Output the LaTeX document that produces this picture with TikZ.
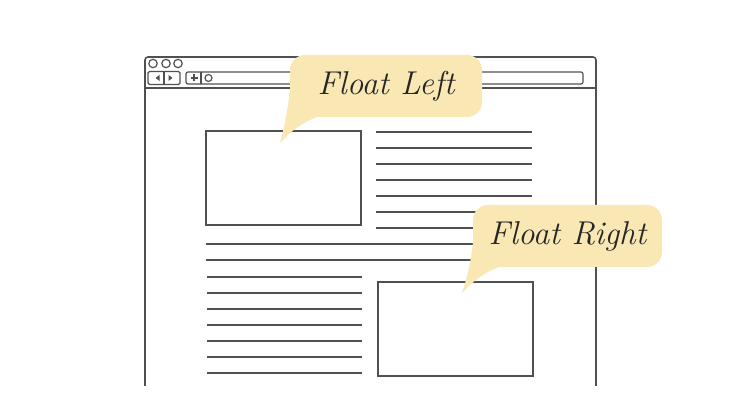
\documentclass[tikz,border=0pt]{standalone}
\usepackage{tikz}
\usetikzlibrary{positioning}
\definecolor{bubble}{RGB}{249,232,180}
\definecolor{ink}{RGB}{80,80,80}

\begin{document}
\begin{tikzpicture}[x=1pt,y=-1pt,line width=1.4pt,
    frame/.style={draw=ink,line width=1.6pt},
    img box/.style={draw=ink,line width=1.7pt,minimum width=155pt,minimum height=94pt,inner sep=0pt},
    text line/.style={draw=ink,line width=1.8pt},
    callout/.style={fill=bubble,rounded corners=15pt,text=black!85,font=\itshape\fontsize{33}{33}\selectfont,
                    inner sep=0pt,minimum height=62pt}]
    \useasboundingbox (0,0) rectangle (731,419);

      % browser window
      \draw[frame,rounded corners=3pt] (145,386) -- (145,57) -- (596,57) -- (596,386);
      \draw[frame] (145,88) -- (596,88);
      \foreach \x in {153,166,178}
        \draw[frame,line width=1.2pt] (\x,63.5) circle (4.2pt);
      \node[frame,rounded corners=1.5pt,line width=1.2pt,minimum width=32pt,minimum height=13pt,inner sep=0pt] (nav) at (164,78) {};
      \draw[frame,line width=1.2pt] (nav.north) -- (nav.south);
      \fill[ink] (159.5,75) -- (159.5,81) -- (155.5,78) -- cycle;
      \fill[ink] (168.5,75) -- (168.5,81) -- (172.5,78) -- cycle;
      \node[frame,rounded corners=2pt,line width=1.2pt,minimum width=397pt,minimum height=12pt,inner sep=0pt] (address) at (384.5,78) {};
      \draw[frame,line width=1.2pt] (201,72) -- (201,84);
      \draw[frame,line width=1.2pt] (190.5,78) -- (197.5,78) (194,74.5) -- (194,81.5);
      \draw[frame,line width=1.2pt] (208.5,78) circle (3.5pt);

      % page content
      \node[img box] (leftimg) at (283.5,178) {};
      \node[img box] (rightimg) at (455.5,329) {};
      \foreach \y in {132,148,...,228}
        \draw[text line] (376,\y) -- (532,\y);
      \foreach \y in {244,260}
        \draw[text line] (206,\y) -- (532,\y);
      \foreach \y in {277,293,...,373}
        \draw[text line] (207,\y) -- (362,\y);

      % callouts
      \fill[bubble] (292,68) .. controls (289,105) and (285,125) .. (280,143)
                    .. controls (290,132) and (302,122) .. (320,116) -- (330,90) -- cycle;
      \node[callout,minimum width=192pt] (floatleft) at (386,86) {Float Left};
      \fill[bubble] (475,218) .. controls (473,255) and (468,275) .. (462,293)
                    .. controls (472,282) and (484,272) .. (502,266) -- (510,240) -- cycle;
      \node[callout,minimum width=189pt] (floatright) at (567.5,236) {Float Right};
\end{tikzpicture}
\end{document}
